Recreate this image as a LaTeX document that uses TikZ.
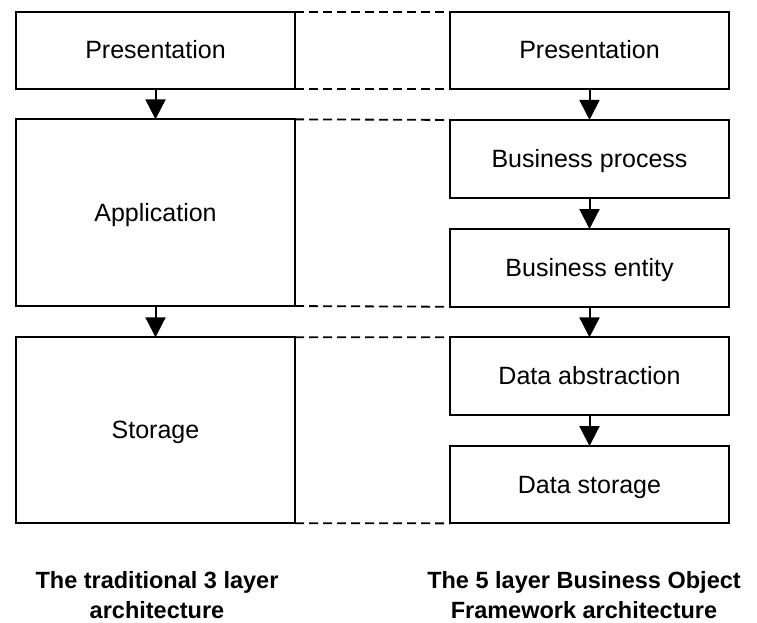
\documentclass[tikz,border=0pt]{standalone}
\usepackage{fontspec}
\setmainfont{Liberation Sans}
\usetikzlibrary{arrows.meta}
\begin{document}
\begin{tikzpicture}[x=1bp,y=-1bp,
  layer/.style={draw=black, line width=2bp, fill=white, inner sep=0pt, outer sep=0pt,
    minimum width=279bp, text height=17bp, text depth=0pt,
    font=\fontsize{25bp}{30bp}\selectfont},
  flow/.style={line width=2bp, -{Triangle[length=20bp,width=20bp]}},
  link/.style={line width=1.8bp, dash pattern=on 9bp off 5bp},
  caption/.style={anchor=base, inner sep=0pt, font=\bfseries\fontsize{23.5bp}{30bp}\selectfont}]
\useasboundingbox (0,0) rectangle (757,623);
% left column
\node[layer, minimum height=77bp] (lp) at (155.5,50.2) {Presentation};
\node[layer, minimum height=186.7bp] (la) at (155.5,212.7) {Application};
\node[layer, minimum height=186bp] (ls) at (155.5,430.3) {Storage};
% right column
\node[layer, minimum height=77bp] (rp) at (589.5,50.2) {Presentation};
\node[layer, minimum height=77.7bp] (rbp) at (589.5,158.8) {Business process};
\node[layer, minimum height=77.7bp] (rbe) at (589.5,267.9) {Business entity};
\node[layer, minimum height=77.7bp] (rda) at (589.5,376.2) {Data abstraction};
\node[layer, minimum height=77.3bp] (rds) at (589.5,484.7) {Data storage};
% arrows
\draw[flow] (lp.south) -- (la.north);
\draw[flow] (la.south) -- (ls.north);
\draw[flow] (rp.south) -- (rbp.north);
\draw[flow] (rbp.south) -- (rbe.north);
\draw[flow] (rbe.south) -- (rda.north);
\draw[flow] (rda.south) -- (rds.north);
% dashed links
\draw[link] (lp.north east) -- (rp.north west);
\draw[link] (lp.south east) -- (rp.south west);
\draw[link] (la.north east) -- (rbp.north west);
\draw[link] (la.south east) -- (rbe.south west);
\draw[link] (ls.north east) -- (rda.north west);
\draw[link] (ls.south east) -- (rds.south west);
% captions
\node[caption] (cl1) at (157,588) {The traditional 3 layer};
\node[caption] (cl2) at (157,618) {architecture};
\node[caption] (cr1) at (584,588) {The 5 layer Business Object};
\node[caption] (cr2) at (584,618) {Framework architecture};
\end{tikzpicture}
\end{document}
